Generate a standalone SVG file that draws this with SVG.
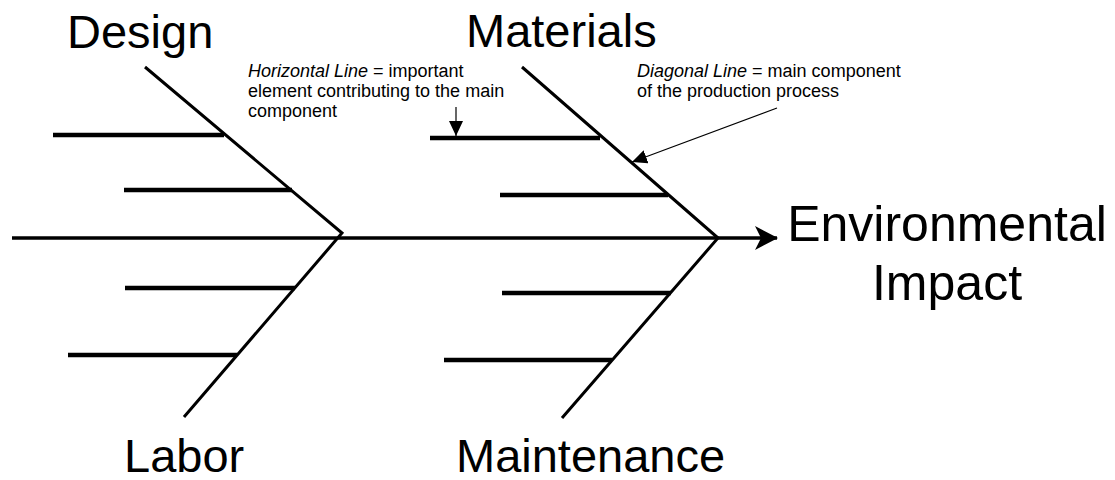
<svg xmlns="http://www.w3.org/2000/svg" width="1115" height="480" viewBox="0 0 1115 480">
<style>
.lbl{font-family:"Liberation Sans",Arial,sans-serif;font-size:47px;fill:#000}
.eff{font-family:"Liberation Sans",Arial,sans-serif;font-size:50px;fill:#000}
.note{font-family:"Liberation Sans",Arial,sans-serif;font-size:18px;fill:#000}
.it{font-style:italic}
.spine{stroke:#000;stroke-width:3.5;fill:none}
.bone{stroke:#000;stroke-width:3;fill:none;stroke-linejoin:miter}
.rib{stroke:#000;stroke-width:4.5;fill:none}
.ann{stroke:#000;stroke-width:1.2;fill:none}
</style>
<defs>
<marker id="ah" viewBox="0 0 15 14" refX="15" refY="7" markerWidth="15" markerHeight="14" markerUnits="userSpaceOnUse" orient="auto">
<path d="M0,0 L15,7 L0,14 z" fill="#000"/>
</marker>
<marker id="big" viewBox="0 0 24 26" refX="22" refY="13" markerWidth="24" markerHeight="26" markerUnits="userSpaceOnUse" orient="auto">
<path d="M0,1 L23,13 L0,25 L6,13 z" fill="#000"/>
</marker>
</defs>
<rect width="1115" height="480" fill="#fff"/>
<g id="connectors">
<line class="spine" x1="12" y1="238" x2="777" y2="238" marker-end="url(#big)"/>
<polyline class="bone" points="145,67 342,233 184,417"/>
<polyline class="bone" points="522,67 718,238 562,418"/>
<line class="rib" x1="53" y1="135" x2="224" y2="135"/>
<line class="rib" x1="124" y1="190" x2="292" y2="190"/>
<line class="rib" x1="125" y1="288" x2="295" y2="288"/>
<line class="rib" x1="68" y1="355" x2="237" y2="355"/>
<line class="rib" x1="430" y1="138" x2="600" y2="138"/>
<line class="rib" x1="500" y1="195" x2="668" y2="195"/>
<line class="rib" x1="502" y1="293" x2="671" y2="293"/>
<line class="rib" x1="444" y1="360" x2="612" y2="360"/>
<line class="ann" x1="456" y1="107" x2="456" y2="136" marker-end="url(#ah)"/>
<line class="ann" x1="777" y1="108" x2="632" y2="162" marker-end="url(#ah)"/>
</g>
<g id="design"><text class="lbl" x="67" y="48">Design</text></g>
<g id="materials"><text class="lbl" x="466" y="47">Materials</text></g>
<g id="labor"><text class="lbl" x="124" y="472">Labor</text></g>
<g id="maintenance"><text class="lbl" x="456" y="472">Maintenance</text></g>
<g id="effect"><text class="eff" x="947" y="241" text-anchor="middle">Environmental</text><text class="eff" x="947" y="300" text-anchor="middle">Impact</text></g>
<g id="note-horizontal">
<text class="note" x="248" y="77"><tspan class="it">Horizontal Line</tspan> = important</text>
<text class="note" x="248" y="97">element contributing to the main</text>
<text class="note" x="248" y="117">component</text>
</g>
<g id="note-diagonal">
<text class="note" x="637" y="77"><tspan class="it">Diagonal Line</tspan> = main component</text>
<text class="note" x="637" y="97">of the production process</text>
</g>
</svg>
